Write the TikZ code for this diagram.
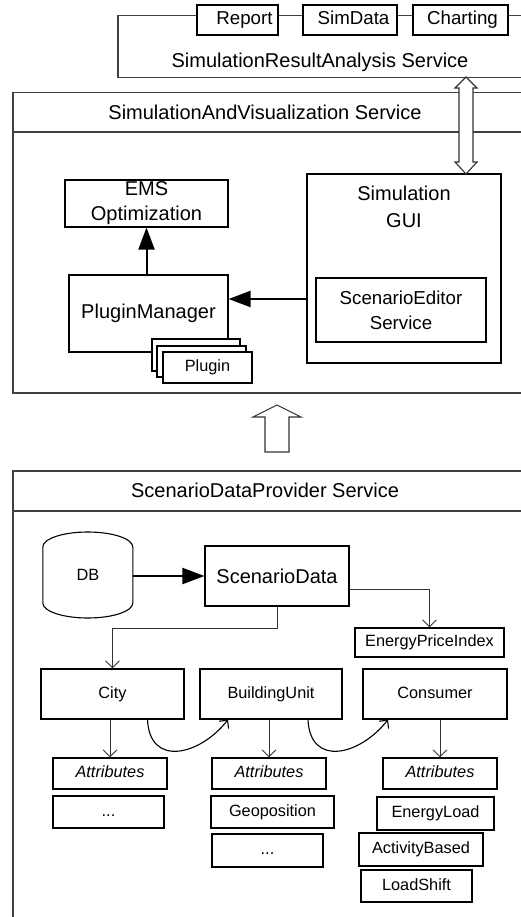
\documentclass[tikz,border=0pt]{standalone}
\usepackage{fontspec}
\setmainfont{Liberation Sans}
\usetikzlibrary{arrows.meta,calc}
\begin{document}
\begin{tikzpicture}[x=1pt,y=-1pt,
  box/.style={draw=black, line width=1.1pt, fill=white, inner sep=0pt, align=center},
  outer/.style={draw=black!75, line width=1.5pt, inner sep=0pt, anchor=north west},
  hdr/.style={draw=black!75, line width=1.5pt},
  fA/.style={font=\fontsize{20}{25}\selectfont},
  fB/.style={font=\fontsize{18.7}{25}\selectfont},
  fC/.style={font=\fontsize{16.3}{20}\selectfont},
  bigarrow/.style={line width=2pt, -{Triangle[length=22pt,width=16pt]}},
  thinarrow/.style={draw=black!80, line width=0.9pt, -{Straight Barb[length=7pt,width=14pt]}},
  curvearrow/.style={line width=1.1pt, -{Straight Barb[length=6pt,width=12pt]}},
  hollow/.style={draw=black!80, line width=1.1pt, fill=white, line join=miter}
]
\useasboundingbox (0,0) rectangle (521,917);
\clip (0,0) rectangle (521,917);

% ---------- SimulationResultAnalysis Service ----------
\node[outer, minimum width=423, minimum height=62] (sra) at (117,15) {};
\node[fA] (srat) at (320,62) {SimulationResultAnalysis Service};
\node[box, fB, minimum width=81, minimum height=30] (report) at (237.5,20) {\strut\hspace*{14pt}Report};
\node[box, fB, minimum width=94, minimum height=30] (simdata) at (350,20) {\strut\hspace*{7pt}SimData};
\node[box, fB, minimum width=95, minimum height=30] (charting) at (460.5,20) {\strut\hspace*{4pt}Charting};

% ---------- SimulationAndVisualization Service ----------
\node[outer, minimum width=528, minimum height=300] (sav) at (12,92) {};
\draw[hdr] ($(sav.north west)+(0,40)$) -- ($(sav.north east)+(0,40)$);
\node[fA] (savt) at (265,112) {SimulationAndVisualization Service};

\node[box, fA, minimum width=163, minimum height=47] (ems) at (146.5,203.5) {EMS\\Optimization};
\node[box, fA, minimum width=159, minimum height=77] (pm) at (148.5,313.5) {PluginManager};
\node[box, fC, minimum width=88, minimum height=32] (pl3) at (196,355) {};
\node[box, fC, minimum width=89, minimum height=31] (pl2) at (201.5,361.5) {};
\node[box, fC, minimum width=89, minimum height=31] (pl1) at (207.5,367.5) {\strut Plugin};

\node[box, minimum width=194, minimum height=189] (gui) at (404,268.5) {};
\node[fA, align=center, font=\fontsize{20}{27}\selectfont] (guit) at (404,207) {Simulation\\GUI};
\node[box, fB, minimum width=170, minimum height=64] (se) at (401,310) {ScenarioEditor\\Service};

\draw[bigarrow] (pm.north -| ems.south) -- (ems.south);
\draw[bigarrow] (gui.west |- 0,299) -- (pm.east |- 0,299);

% double hollow arrow
\draw[hollow] (466,77) -- (477,88) -- (473,88) -- (473,162) -- (477,162) -- (466,174)
  -- (455,162) -- (459,162) -- (459,88) -- (455,88) -- cycle;

% hollow up arrow
\draw[hollow] (277,405) -- (301,417) -- (289,417) -- (289,452) -- (265,452) -- (265,417) -- (253,417) -- cycle;

% ---------- ScenarioDataProvider Service ----------
\node[outer, minimum width=528, minimum height=470] (sdp) at (12,470) {};
\draw[hdr] ($(sdp.north west)+(0,41)$) -- ($(sdp.north east)+(0,41)$);
\node[fA] (sdpt) at (265,490) {ScenarioDataProvider Service};

\node[inner sep=0pt, minimum width=90, minimum height=86, fC] (db) at (88,575) {DB};
\draw[line width=1.1pt] (db.west) ++(0,-28) arc[start angle=180, end angle=360, x radius=45, y radius=15]
  -- ++(0,56) arc[start angle=0, end angle=180, x radius=45, y radius=15] -- cycle;

\node[box, fA, minimum width=144, minimum height=60] (sd) at (277,576) {ScenarioData};
\node[box, fC, minimum width=149, minimum height=29] (epi) at (429.5,642.5) {\strut EnergyPriceIndex};

\node[box, fC, minimum width=143, minimum height=50] (city) at (112.5,694) {\strut City};
\node[box, fC, minimum width=142, minimum height=50] (bu) at (271,694) {\strut BuildingUnit};
\node[box, fC, minimum width=144, minimum height=50] (cons) at (435,694) {\strut Consumer};

\node[box, fC, minimum width=114, minimum height=31] (ca) at (110,773.5) {\strut\itshape Attributes};
\node[box, fC, minimum width=114, minimum height=31] (ba) at (269,773.5) {\strut\itshape Attributes};
\node[box, fC, minimum width=114, minimum height=31] (cna) at (440,773.5) {\strut\itshape Attributes};

\node[box, fC, minimum width=111, minimum height=32] (cdots) at (108.5,812) {\strut...};
\node[box, fC, minimum width=123, minimum height=32] (geo) at (272.5,812) {\strut Geoposition};
\node[box, fC, minimum width=111, minimum height=33] (bdots) at (267.5,850.5) {\strut...};
\node[box, fC, minimum width=117, minimum height=33] (eload) at (435.5,813.5) {\strut EnergyLoad};
\node[box, fC, minimum width=124, minimum height=33] (act) at (421,849.5) {\strut ActivityBased};
\node[box, fC, minimum width=111, minimum height=32] (lshift) at (416.5,886) {\strut LoadShift};

\draw[bigarrow] (db.east |- sd.west) -- (sd.west);
\draw[thinarrow] (sd.south) -- ++(0,22) -| (city.north);
\draw[thinarrow] ([yshift=-13pt]sd.east) -| (epi.north);
\draw[thinarrow] (ca.north |- city.south) -- (ca.north);
\draw[thinarrow] (ba.north |- bu.south) -- (ba.north);
\draw[thinarrow] (cna.north |- cons.south) -- (cna.north);

\draw[curvearrow] ([xshift=35pt]city.south) .. controls +(2,48) and +(-28,36) .. ([xshift=-43pt]bu.south);
\draw[curvearrow] ([xshift=37pt]bu.south) .. controls +(2,48) and +(-28,36) .. ([xshift=-47pt]cons.south);
\end{tikzpicture}
\end{document}
